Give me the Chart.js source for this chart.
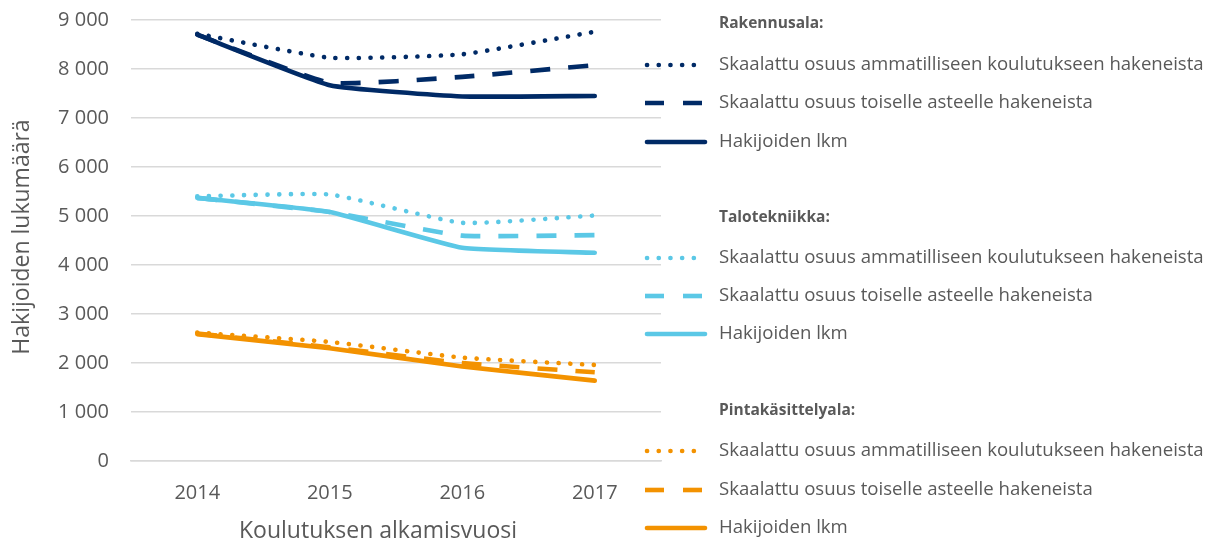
<!DOCTYPE html>
<html>
<head>
<meta charset="utf-8">
<script src="https://cdn.jsdelivr.net/npm/chart.js@4.4.1/dist/chart.umd.min.js"></script>
<style>
  html, body { margin: 0; padding: 0; background: #fff; }
  #wrap { position: relative; width: 1212px; height: 544px; }
</style>
</head>
<body>
<div id="wrap"><canvas id="chart" width="1212" height="544"></canvas></div>
<script>
// ── Data ────────────────────────────────────────────────────
const years = ['2014', '2015', '2016', '2017'];

const rakDotted   = [8720, 8230, 8300, 8760];
const rakDashed   = [8700, 7720, 7840, 8080];
const rakSolid    = [8700, 7670, 7440, 7450];

const taloDotted  = [5400, 5440, 4860, 5010];
const taloDashed  = [5370, 5080, 4600, 4610];
const taloSolid   = [5370, 5080, 4350, 4250];

const pintaDotted = [2620, 2430, 2110, 1960];
const pintaDashed = [2600, 2320, 2000, 1810];
const pintaSolid  = [2590, 2300, 1930, 1640];

const groupNames  = ['Rakennusala:', 'Talotekniikka:', 'Pintakäsittelyala:'];
const seriesNames = [
    'Skaalattu osuus ammatilliseen koulutukseen hakeneista',
    'Skaalattu osuus toiselle asteelle hakeneista',
    'Hakijoiden lkm',
];
const yTitle = 'Hakijoiden lukumäärä';
const xTitle = 'Koulutuksen alkamisvuosi';

// ── Styles ──────────────────────────────────────────────────
const COLORS = ['#002a66', '#5bc8e6', '#f39200'];
const TEXT = '#595959';
const FONT = "'Open Sans', sans-serif";
const DASHES = [[0.1, 11.6], [20, 18], []];
const LW = 4.6;

const groups = [
    [rakDotted, rakDashed, rakSolid],
    [taloDotted, taloDashed, taloSolid],
    [pintaDotted, pintaDashed, pintaSolid],
];

const datasets = [];
groups.forEach((g, gi) => {
    g.forEach((vals, si) => {
        datasets.push({
            label: groupNames[gi] + ' ' + seriesNames[si],
            data: vals,
            borderColor: COLORS[gi],
            borderWidth: LW,
            borderDash: DASHES[si],
            borderCapStyle: si === 1 ? 'butt' : 'round',
            borderJoinStyle: 'round',
            pointRadius: 0,
            tension: 0.13,
            fill: false,
            order: si,
        });
    });
});

// ── Custom legend + axis titles ─────────────────────────────
const legendRows = [
    { head: 24, items: [65, 103, 142] },
    { head: 218, items: [258, 296, 334] },
    { head: 411, items: [451, 490, 528] },
];

const sideLegend = {
    id: 'sideLegend',
    afterDraw(chart) {
        const ctx = chart.ctx;
        ctx.save();
        ctx.textBaseline = 'middle';
        ctx.textAlign = 'left';
        legendRows.forEach((row, gi) => {
            ctx.fillStyle = TEXT;
            ctx.font = "bold 15.5px " + FONT;
            ctx.fillText(groupNames[gi], 719, row.head);
            row.items.forEach((y, si) => {
                ctx.strokeStyle = COLORS[gi];
                ctx.lineWidth = LW;
                ctx.lineCap = si === 1 ? 'butt' : 'round';
                ctx.beginPath();
                if (si === 1) {
                    ctx.setLineDash([19, 19]);
                    ctx.moveTo(645, y); ctx.lineTo(704, y);
                } else {
                    ctx.setLineDash(DASHES[si]);
                    ctx.moveTo(647, y); ctx.lineTo(705, y);
                }
                ctx.stroke();
                ctx.setLineDash([]);
                ctx.fillStyle = TEXT;
                ctx.font = "18.6px " + FONT;
                ctx.fillText(seriesNames[si], 719, y);
            });
        });

        // axis titles (Excel places the x title left of plot centre)
        ctx.fillStyle = TEXT;
        ctx.font = "23px " + FONT;
        ctx.textAlign = 'center';
        ctx.fillText(xTitle, 378, 531);
        ctx.translate(22, 237);
        ctx.rotate(-Math.PI / 2);
        ctx.fillText(yTitle, 0, 0);
        ctx.restore();
    },
};

const noPad = s => { s.paddingTop = 0; s.paddingBottom = 0; };

new Chart(document.getElementById('chart'), {
    type: 'line',
    data: { labels: years, datasets },
    plugins: [sideLegend],
    options: {
        responsive: false,
        animation: false,
        layout: { padding: { left: 0, right: 551, top: 20, bottom: 0 } },
        plugins: { legend: { display: false }, tooltip: { enabled: false } },
        scales: {
            x: {
                offset: true,
                grid: { display: false, drawTicks: false },
                border: { color: '#d9d9d9', width: 1.5 },
                ticks: { color: TEXT, font: { family: FONT, size: 20 }, padding: 20 },
                afterFit: s => { s.height = 83; noPad(s); },
            },
            y: {
                min: 0,
                max: 9000,
                ticks: {
                    stepSize: 1000,
                    color: TEXT,
                    font: { family: FONT, size: 20 },
                    padding: 22,
                    callback: v => String(v).replace(/\B(?=(\d{3})+(?!\d))/g, ' '),
                },
                grid: { color: '#d9d9d9', lineWidth: 1.5, drawTicks: false },
                border: { display: false },
                afterFit: s => { s.width = 131; noPad(s); },
            },
        },
    },
});
</script>
</body>
</html>
